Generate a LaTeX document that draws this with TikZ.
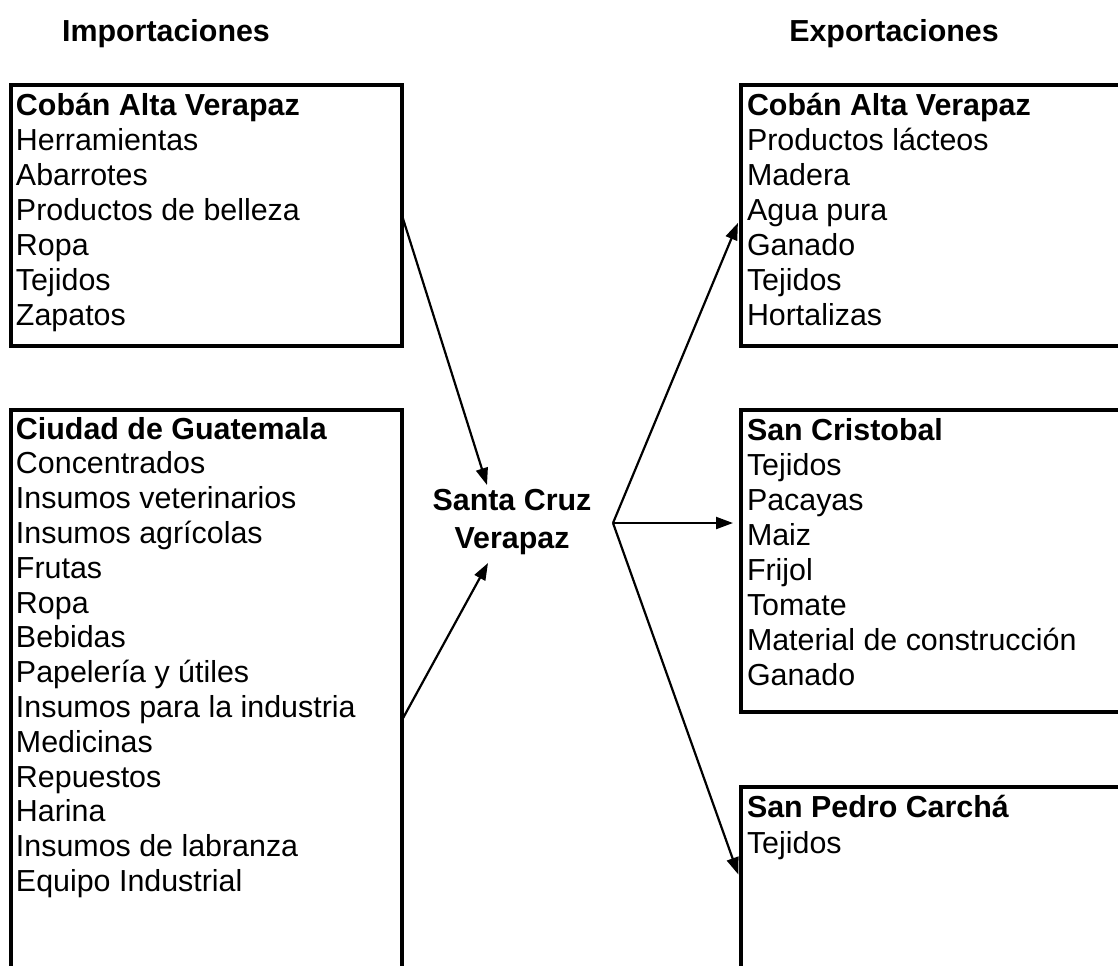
\documentclass[tikz,border=0pt]{standalone}
\usepackage{fontspec}
\setmainfont{Liberation Sans}
\usetikzlibrary{arrows.meta,calc}
\begin{document}
\begin{tikzpicture}[x=0.5pt,y=-0.5pt,
  every node/.style={font=\fontsize{15.2pt}{17.5pt}\selectfont, inner sep=0pt, outer sep=0pt},
  boxst/.style={draw=black, line width=1.6pt, anchor=north west, minimum width=#1},
  itm/.style={anchor=base west},
  hdr/.style={anchor=base west, font=\fontsize{15.2pt}{17.5pt}\selectfont\bfseries},
  ttl/.style={anchor=base, font=\fontsize{15.2pt}{17.5pt}\selectfont\bfseries},
  ctr/.style={align=center, font=\fontsize{15.2pt}{19pt}\selectfont\bfseries},
  arr/.style={-{Triangle[length=8.5pt,width=6pt]}, line width=1.1pt, draw=black}]
\useasboundingbox (0,0) rectangle (1118,965);
\fill[white] (0,0) rectangle (1118,965);
\clip (0,0) rectangle (1118,965);

% titles
\node[ttl] (yr) at (567,-0.5) {Año: 2007};
\node[ttl] (imp) at (166,41) {Importaciones};
\node[ttl] (exp) at (894,41) {Exportaciones};

% boxes
\node[boxst=195.5pt, minimum height=130.5pt] (b1) at (11,85) {};
\node[boxst=195.5pt, minimum height=310pt] (b2) at (11,410) {};
\node[boxst=197pt, minimum height=130.5pt] (r1) at (741,85) {};
\node[boxst=197pt, minimum height=151pt] (r2) at (741,410) {};
\node[boxst=197pt, minimum height=95pt] (r3) at (741,787) {};

% box texts
\node[hdr] (b1-0) at ($(b1.north west)+(5,30)$) {Cobán Alta Verapaz};
\foreach \t [count=\i] in {Herramientas,Abarrotes,Productos de belleza,Ropa,Tejidos,Zapatos}
  \node[itm] (b1-\i) at ($(b1.north west)+(5,30+35*\i)$) {\t};

\node[hdr] (b2-0) at ($(b2.north west)+(5,29)$) {Ciudad de Guatemala};
\foreach \t [count=\i] in {Concentrados,Insumos veterinarios,Insumos agrícolas,Frutas,Ropa,Bebidas,Papelería y útiles,Insumos para la industria,Medicinas,Repuestos,Harina,Insumos de labranza,Equipo Industrial}
  \node[itm] (b2-\i) at ($(b2.north west)+(5,29+34.8*\i)$) {\t};

\node[hdr] (r1-0) at ($(r1.north west)+(6,30)$) {Cobán Alta Verapaz};
\foreach \t [count=\i] in {Productos lácteos,Madera,Agua pura,Ganado,Tejidos,Hortalizas}
  \node[itm] (r1-\i) at ($(r1.north west)+(6,30+35*\i)$) {\t};

\node[hdr] (r2-0) at ($(r2.north west)+(6,30)$) {San Cristobal};
\foreach \t [count=\i] in {Tejidos,Pacayas,Maiz,Frijol,Tomate,Material de construcción,Ganado}
  \node[itm] (r2-\i) at ($(r2.north west)+(6,30+35*\i)$) {\t};

\node[hdr] (r3-0) at ($(r3.north west)+(6,30)$) {San Pedro Carchá};
\node[itm] (r3-1) at ($(r3.north west)+(6,66)$) {Tejidos};

% centre
\node[ctr] (sc) at (512,522) {Santa Cruz\\Verapaz};
\coordinate (in1) at ($(sc.center)+(-25,-37)$);
\coordinate (in2) at ($(sc.center)+(-24,41)$);
\coordinate (hub) at ($(sc.center)+(101,1)$);

% connectors
\draw[arr] (b1.east) -- (in1);
\draw[arr] (b2.east) -- (in2);
\draw[arr, shorten >=4pt] (hub) -- (r1.west);
\draw[arr, shorten >=4pt] (hub) -- (hub -| r2.west);
\draw[arr, shorten >=4pt] (hub) -- (r3.west);
\end{tikzpicture}
\end{document}
